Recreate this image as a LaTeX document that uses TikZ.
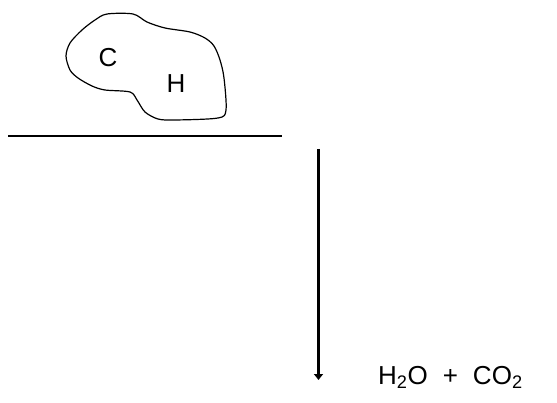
\documentclass[tikz,border=0pt]{standalone}
\usepackage{fontspec}
\setmainfont{Liberation Sans}
\usetikzlibrary{arrows.meta}
\begin{document}
\begin{tikzpicture}[x=1pt,y=-1pt,
  lbl/.style={inner sep=0pt,font=\fontsize{26}{30}\selectfont},
  outline/.style={line width=1.2pt,line join=round}]
\useasboundingbox (0,0) rectangle (557,403);
\draw[outline] plot[smooth cycle,tension=0.5] coordinates {
 (107,14) (133,14) (147,22) (165,28) (190,32) (205,38) (214,46)
 (220,60) (224,78) (226,110) (218,118) (175,120) (158,119) (145,112)
 (137,100) (130,92) (105,90) (92,86) (78,78) (70,70) (66,56) (70,43)
 (82,30) (95,20)};
\node[lbl] (c) at (108,58) {C};
\node[lbl] (h) at (176,84) {H};
\coordinate (l1) at (8,136);
\coordinate (l2) at (282,136);
\draw[line width=1.2pt] (l1) -- (l2);
\coordinate (a1) at (318.5,149);
\node[lbl,anchor=west] (p) at (378,377) {H\textsubscript{2}O\hspace{15pt}+\hspace{15pt}CO\textsubscript{2}};
\coordinate (a2) at (318.5,380);
\draw[line width=2.4pt,-{Triangle[width=9pt,length=6pt]}] (a1) -- (a2);
\end{tikzpicture}
\end{document}
